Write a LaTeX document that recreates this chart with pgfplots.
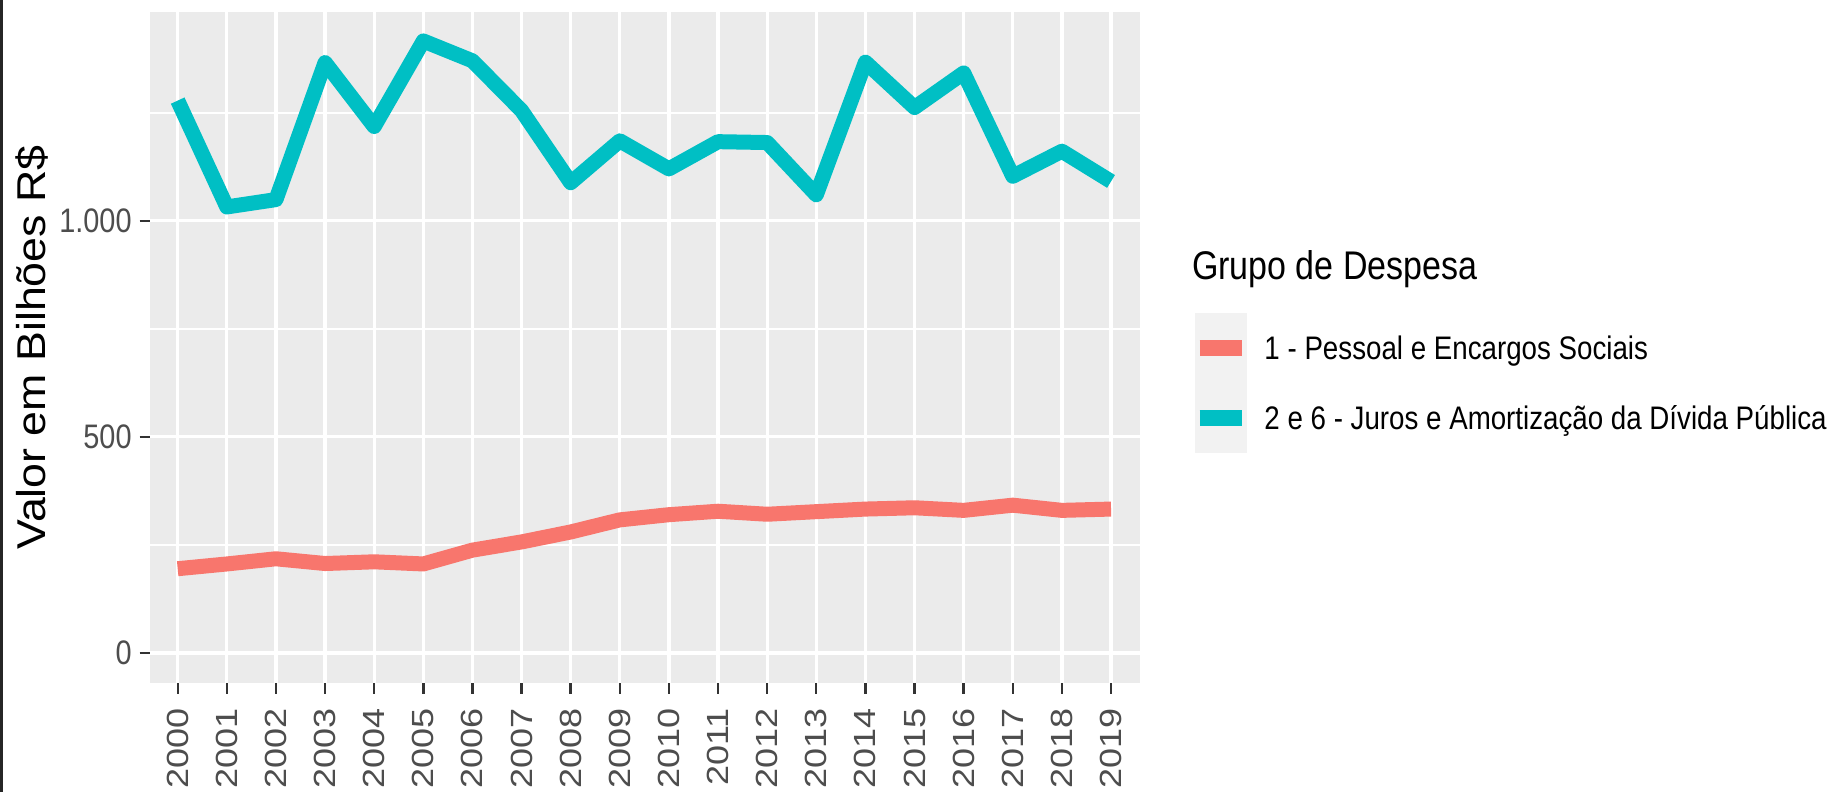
\documentclass[border=0pt]{standalone}
\usepackage{fontspec}
\setmainfont{Liberation Sans}
\newfontfamily\hfont{Liberation Sans}[FakeStretch=0.85]
\usepackage{graphicx}
\usepackage{pgfplots}
\pgfplotsset{compat=1.18}
\definecolor{panelbg}{HTML}{EBEBEB}
\definecolor{keybg}{HTML}{F2F2F2}
\definecolor{gteal}{HTML}{00BFC4}
\definecolor{gred}{HTML}{F8766D}
\definecolor{gray20}{HTML}{333333}
\definecolor{gray30}{HTML}{4D4D4D}
\newcommand\sx[1]{\scalebox{1}[0.85]{#1}}
\begin{document}
\begin{tikzpicture}
\useasboundingbox (-75pt,-54.5pt) rectangle (839.5pt,341.5pt);
\fill[white] (-75pt,-54.5pt) rectangle (839.5pt,341.5pt);
\fill[black!85] (-75pt,-54.5pt) rectangle (-73.7pt,341.5pt);
\begin{axis}[
  scale only axis,
  width=495pt, height=335.6pt,
  xmin=1999.436, xmax=2019.59,
  ymin=-69.4, ymax=1483.5,
  clip mode=individual,
  axis background/.style={fill=panelbg},
  axis line style={draw=none},
  tick pos=left,
  tick align=outside,
  major tick length=5.25pt,
  minor tick length=0pt,
  major tick style={draw=gray20, line width=1.2pt},
  xtick={2000,2001,2002,2003,2004,2005,2006,2007,2008,2009,2010,2011,2012,2013,2014,2015,2016,2017,2018,2019},
  xticklabels={\sx{2000},\sx{2001},\sx{2002},\sx{2003},\sx{2004},\sx{2005},\sx{2006},\sx{2007},\sx{2008},\sx{2009},\sx{2010},\sx{2011},\sx{2012},\sx{2013},\sx{2014},\sx{2015},\sx{2016},\sx{2017},\sx{2018},\sx{2019}},
  ytick={0,500,1000},
  yticklabels={0,500,1.000},
  minor ytick={250,750,1250},
  xmajorgrids, ymajorgrids, yminorgrids,
  major grid style={white, line width=1.6pt},
  minor grid style={white, line width=0.85pt},
  xticklabel style={yshift=-7.25pt, rotate=90, anchor=east, inner sep=0pt, text=gray30,
    font=\fontsize{18}{18}\selectfont},
  yticklabel style={xshift=-3.75pt, anchor=east, inner sep=0pt, text=gray30,
    font=\hfont\fontsize{17}{17}\selectfont},
  ylabel={\scalebox{1}[0.9]{Valor em Bilhões R\$}},
  ylabel style={at={(rel axis cs:-0.1192,0.5)}, anchor=center, inner sep=0pt,
    font=\fontsize{22.35}{22.35}\selectfont},
  legend style={at={(rel axis cs:1.0522,0.5514)}, anchor=north west,
    draw=none, fill=none, inner sep=0pt, outer sep=0pt,
    row sep=0pt, column sep=7pt,
    nodes={anchor=base west, inner sep=0pt, font=\hfont\fontsize{16.3}{16.3}\selectfont}},
  legend image code/.code={
    \fill[keybg, draw=none] (0pt,-11.65pt) rectangle (25.8pt,23.35pt);
    \draw[#1, line width=8pt, line cap=butt] (2.2pt,5.85pt) -- (23.6pt,5.85pt);
  },
]
\addplot[gred, line width=7.5pt, line join=round, line cap=butt] coordinates {
(2000,195) (2001,206) (2002,218) (2003,207) (2004,211) (2005,206) (2006,238)
(2007,257) (2008,280) (2009,308) (2010,320) (2011,328) (2012,321) (2013,327)
(2014,333) (2015,336) (2016,330) (2017,342) (2018,330) (2019,333)};
\addlegendentry{1 - Pessoal e Encargos Sociais}
\addplot[gteal, line width=7.5pt, line join=round, line cap=butt] coordinates {
(2000,1278) (2001,1032) (2002,1049) (2003,1366) (2004,1218) (2005,1416) (2006,1370)
(2007,1255) (2008,1088) (2009,1185) (2010,1120) (2011,1183) (2012,1181) (2013,1060)
(2014,1367) (2015,1262) (2016,1342) (2017,1103) (2018,1161) (2019,1091)};
\addlegendentry{2 e 6 - Juros e Amortização da Dívida Pública}
\node[anchor=base west, inner sep=0pt, font=\hfont\fontsize{20}{20}\selectfont]
  at (rel axis cs:1.0522,0.6006) {Grupo de Despesa};
\end{axis}
\end{tikzpicture}
\end{document}
